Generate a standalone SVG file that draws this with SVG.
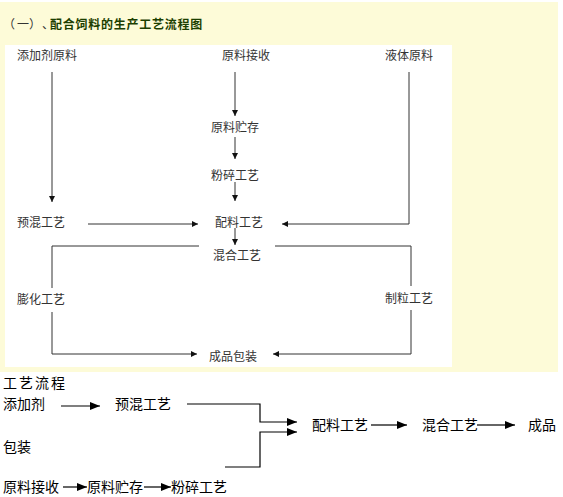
<svg xmlns="http://www.w3.org/2000/svg" width="563" height="497" viewBox="0 0 563 497">
<style>
text{font-family:"Noto Sans CJK SC","Noto Sans",sans-serif}
.t{font-size:12px;fill:#333}
.b{font-size:14px;fill:#000}
.ln{stroke:#333;stroke-width:1;fill:none}
.lb{stroke:#000;stroke-width:1.2;fill:none}
.lg{stroke:#666;stroke-width:2;fill:none}
</style>
<defs>
<marker id="a" viewBox="0 0 10 10" refX="10" refY="5" markerWidth="6" markerHeight="6" markerUnits="userSpaceOnUse" orient="auto"><path d="M0,0L10,5L0,10z" fill="#111"/></marker>
<marker id="A" viewBox="0 0 10 10" refX="10" refY="5" markerWidth="10" markerHeight="8" markerUnits="userSpaceOnUse" orient="auto" preserveAspectRatio="none"><path d="M0,0L10,5L0,10z" fill="#000"/></marker>
</defs>
<rect x="0" y="0" width="563" height="497" fill="#fff"/>
<rect x="0" y="2" width="558" height="370" fill="#fdfbd8"/>
<rect x="5" y="45" width="447" height="322" fill="#fff"/>
<g id="title">
<text x="3 17 29 42" y="28.5" font-size="12" fill="#333">（一）、</text>
<text x="50" y="28.5" font-size="12" font-weight="bold" fill="#1c3f00" letter-spacing="0.75">配合饲料的生产工艺流程图</text>
</g>
<g id="connectors">
<line class="ln" x1="52" y1="72" x2="52" y2="202" marker-end="url(#a)"/>
<line class="ln" x1="235" y1="72" x2="235" y2="116" marker-end="url(#a)"/>
<line class="ln" x1="235" y1="137" x2="235" y2="159" marker-end="url(#a)"/>
<line class="ln" x1="235" y1="182" x2="235" y2="201" marker-end="url(#a)"/>
<line class="ln" x1="88" y1="224" x2="198" y2="224" marker-end="url(#a)"/>
<polyline class="ln" points="409,72 409,224 282,224" marker-end="url(#a)"/>
<line class="ln" x1="235" y1="228" x2="235" y2="245" marker-end="url(#a)"/>
<polyline class="ln" points="199,246 52,246 52,288"/>
<polyline class="ln" points="52,312 52,354 197,354" marker-end="url(#a)"/>
<polyline class="ln" points="275,246 411,246 411,286"/>
<polyline class="ln" points="411,310 411,354 273,354" marker-end="url(#a)"/>
<line class="lb" x1="61" y1="406" x2="100" y2="406" marker-end="url(#A)"/>
<polyline class="lb" points="187,404 260,404 260,422 297,422" marker-end="url(#A)"/>
<polyline class="lb" points="225,467 260,467 260,432 297,432" marker-end="url(#A)"/>
<line class="lg" x1="371" y1="425" x2="407" y2="425" marker-end="url(#A)"/>
<line class="lg" x1="477" y1="425" x2="515" y2="425" marker-end="url(#A)"/>
<line class="lg" x1="63" y1="487" x2="87" y2="487" marker-end="url(#A)"/>
<line class="lg" x1="144" y1="487" x2="171" y2="487" marker-end="url(#A)"/>
</g>
<g id="n-tjjyl"><text class="t" x="17" y="59.5">添加剂原料</text></g>
<g id="n-yljs"><text class="t" x="222" y="59.5">原料接收</text></g>
<g id="n-ytyl"><text class="t" x="385" y="59.5">液体原料</text></g>
<g id="n-ylzc"><text class="t" x="211" y="131.5">原料贮存</text></g>
<g id="n-fsgy"><text class="t" x="211" y="179.5">粉碎工艺</text></g>
<g id="n-yhgy"><text class="t" x="17" y="226.5">预混工艺</text></g>
<g id="n-plgy"><text class="t" x="215" y="226.5">配料工艺</text></g>
<g id="n-hhgy"><text class="t" x="213" y="259.5">混合工艺</text></g>
<g id="n-phgy"><text class="t" x="17" y="303.5">膨化工艺</text></g>
<g id="n-zlgy"><text class="t" x="385" y="302.5">制粒工艺</text></g>
<g id="n-cpbz"><text class="t" x="209" y="360.5">成品包装</text></g>
<g id="b-title"><text class="b" x="3" y="388" letter-spacing="2">工艺流程</text></g>
<g id="b-tjj"><text class="b" x="3" y="409">添加剂</text></g>
<g id="b-yhgy"><text class="b" x="115" y="409">预混工艺</text></g>
<g id="b-bz"><text class="b" x="3" y="452">包装</text></g>
<g id="b-plgy"><text class="b" x="312" y="430">配料工艺</text></g>
<g id="b-hhgy"><text class="b" x="422" y="430">混合工艺</text></g>
<g id="b-cp"><text class="b" x="528" y="430">成品</text></g>
<g id="b-yljs"><text class="b" x="3" y="492">原料接收</text></g>
<g id="b-ylzc"><text class="b" x="87" y="492">原料贮存</text></g>
<g id="b-fsgy"><text class="b" x="171" y="492">粉碎工艺</text></g>
</svg>
